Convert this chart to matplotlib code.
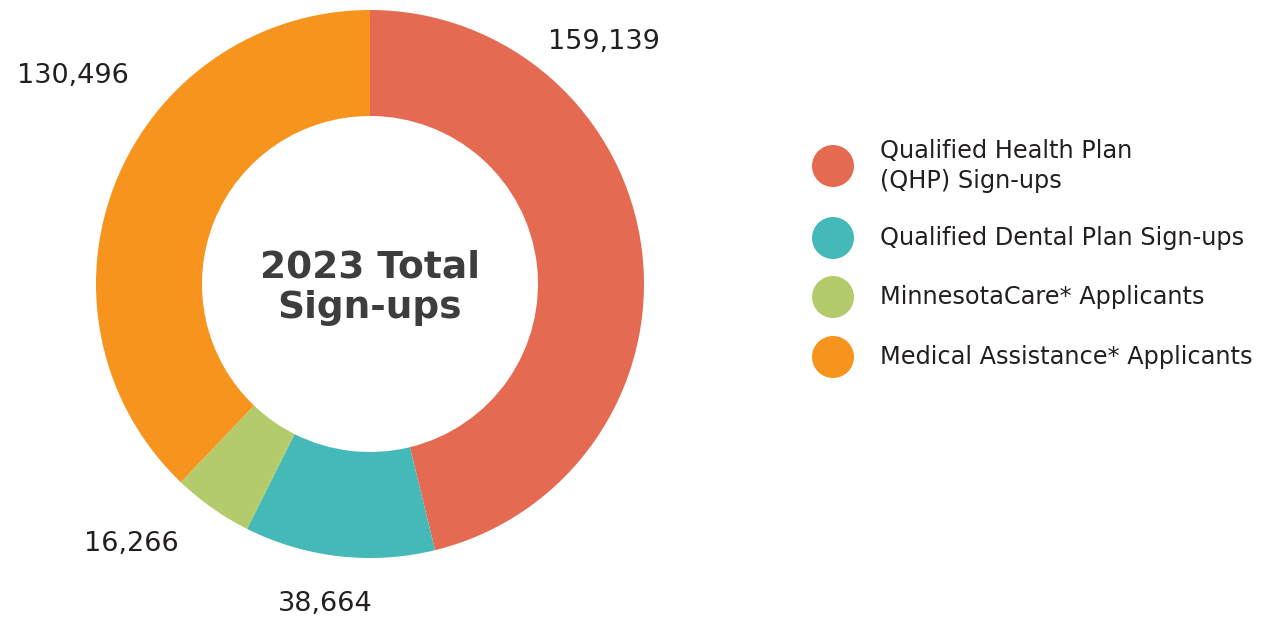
import matplotlib
matplotlib.use("Agg")
import matplotlib.pyplot as plt
from matplotlib.patches import Circle

# data
labels = [
    "Qualified Health Plan\n(QHP) Sign-ups",
    "Qualified Dental Plan Sign-ups",
    "MinnesotaCare* Applicants",
    "Medical Assistance* Applicants",
]
values = [159139, 38664, 16266, 130496]
colors = ["#e46a52", "#45b8b8", "#b4cb6c", "#f7941e"]
title = "2023 Total\nSign-ups"

W, H = 1271, 622
fig = plt.figure(figsize=(W / 100, H / 100), dpi=100)
ax = fig.add_axes([0, 0, 1, 1])

cx, cy, r = 370, H - 284, 274
ax.pie(
    values,
    colors=colors,
    startangle=90,
    counterclock=False,
    center=(cx, cy),
    radius=r,
    wedgeprops=dict(width=106, linewidth=0),
    frame=True,
)
ax.set_xlim(0, W)
ax.set_ylim(0, H)
ax.set_aspect("equal")
ax.axis("off")

ax.text(cx, H - 288, title, ha="center", va="center", fontsize=27,
        fontweight="bold", color="#3d3d3d", linespacing=1.15)

# value labels around the ring
label_pos = [(604, 42), (325, 604), (131, 544), (73, 76)]
for v, (x, y) in zip(values, label_pos):
    ax.text(x, H - y, f"{v:,}", ha="center", va="center", fontsize=19.5,
            color="#231f20")

# legend
leg_y = [166, 238, 297, 357]
for lab, c, y in zip(labels, colors, leg_y):
    ax.add_patch(Circle((833, H - y), 21, color=c, lw=0))
    ax.text(880, H - y, lab, ha="left", va="center", fontsize=17.3,
            color="#231f20", linespacing=1.3)

fig.savefig("out.png", dpi=100)
